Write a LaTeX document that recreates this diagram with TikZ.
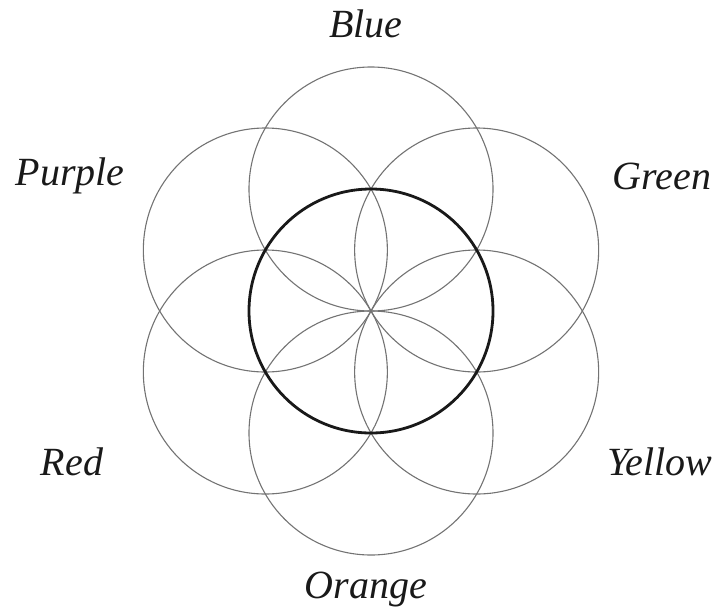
\documentclass[tikz,border=0pt]{standalone}
\usepackage{fontspec}
\setmainfont{Liberation Serif}
\usetikzlibrary{calc}
\begin{document}
\begin{tikzpicture}[x=1pt,y=-1pt,
  petal/.style={draw=black!55,line width=1.1pt},
  core/.style={draw=black!90,line width=2.8pt},
  lbl/.style={font=\fontsize{40}{44}\selectfont\itshape,text=black!90,inner sep=0pt}]
\useasboundingbox (0,0) rectangle (717,614);
\coordinate (c) at (371,311);
\foreach \a/\n in {90/blue,30/green,-30/yellow,-90/orange,-150/red,150/purple}{
  \draw[petal] ($(c)+(\a:122 and -122)$) circle[radius=122];
}
\draw[core] (c) circle[radius=122];
\node[lbl] (blue) at (366,24) {Blue};
\node[lbl] (purple) at (70,176) {Purple};
\node[lbl] (green) at (662,176) {Green};
\node[lbl] (red) at (72,462) {Red};
\node[lbl] (yellow) at (660,462) {Yellow};
\node[lbl] (orange) at (366,590) {Orange};
\end{tikzpicture}
\end{document}
